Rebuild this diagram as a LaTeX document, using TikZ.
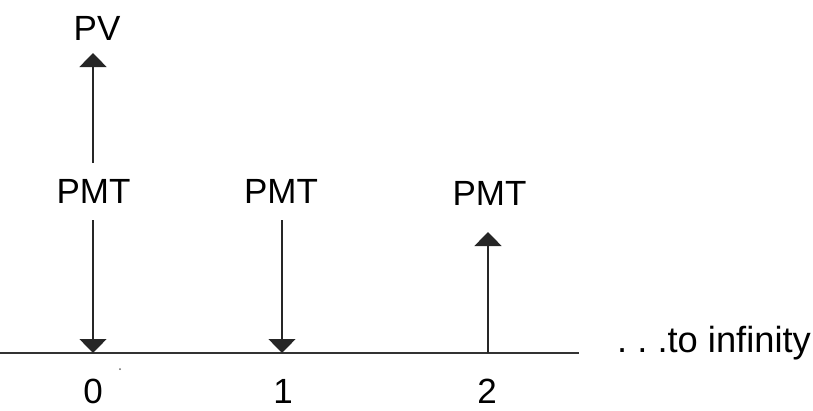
\documentclass[tikz,border=0pt]{standalone}
\usepackage{fontspec}
\setmainfont{Liberation Sans}
\usetikzlibrary{arrows.meta}
\begin{document}
\begin{tikzpicture}[x=1pt,y=-1pt,
  lbl/.style={inner sep=0pt,font=\fontsize{35}{42}\selectfont},
  flow/.style={line width=1.4pt,draw=black!85,-{Triangle[width=27pt,length=14pt]}},
  axisline/.style={line width=2pt,draw=black!80}]
\useasboundingbox (0,0) rectangle (813,410);
% time points on the axis
\coordinate (a0) at (0,353);
\coordinate (a1) at (579,353);
\coordinate (t0) at (93,353);
\coordinate (t1) at (282,353);
\coordinate (t2) at (488,353);
\draw[axisline] (a0) -- (a1);
% labels
\node[lbl,anchor=base] (pv) at (97,40) {PV};
\node[lbl,anchor=base] (pmt0) at (93.5,203) {PMT};
\node[lbl,anchor=base] (pmt1) at (281,203) {PMT};
\node[lbl,anchor=base] (pmt2) at (489.5,205) {PMT};
\node[lbl,anchor=base] (n0) at (93,403) {0};
\node[lbl,anchor=base] (n1) at (283,403) {1};
\node[lbl,anchor=base] (n2) at (487,403) {2};
\node[lbl,anchor=base west,font=\fontsize{36.3}{42}\selectfont] (inf) at (617,352) {.\ .\ .to infinity};
% connectors
\coordinate (pvtip) at (93,53);
\coordinate (pvstart) at (93,163);
\coordinate (s0) at (93,220);
\coordinate (s1) at (282,220);
\coordinate (tip2) at (488,232);
\draw[flow] (pvstart) -- (pvtip);
\draw[flow] (s0) -- (t0);
\draw[flow] (s1) -- (t1);
\draw[flow] (t2) -- (tip2);
\fill[black!60] (120,369) circle (1pt);
\end{tikzpicture}
\end{document}
